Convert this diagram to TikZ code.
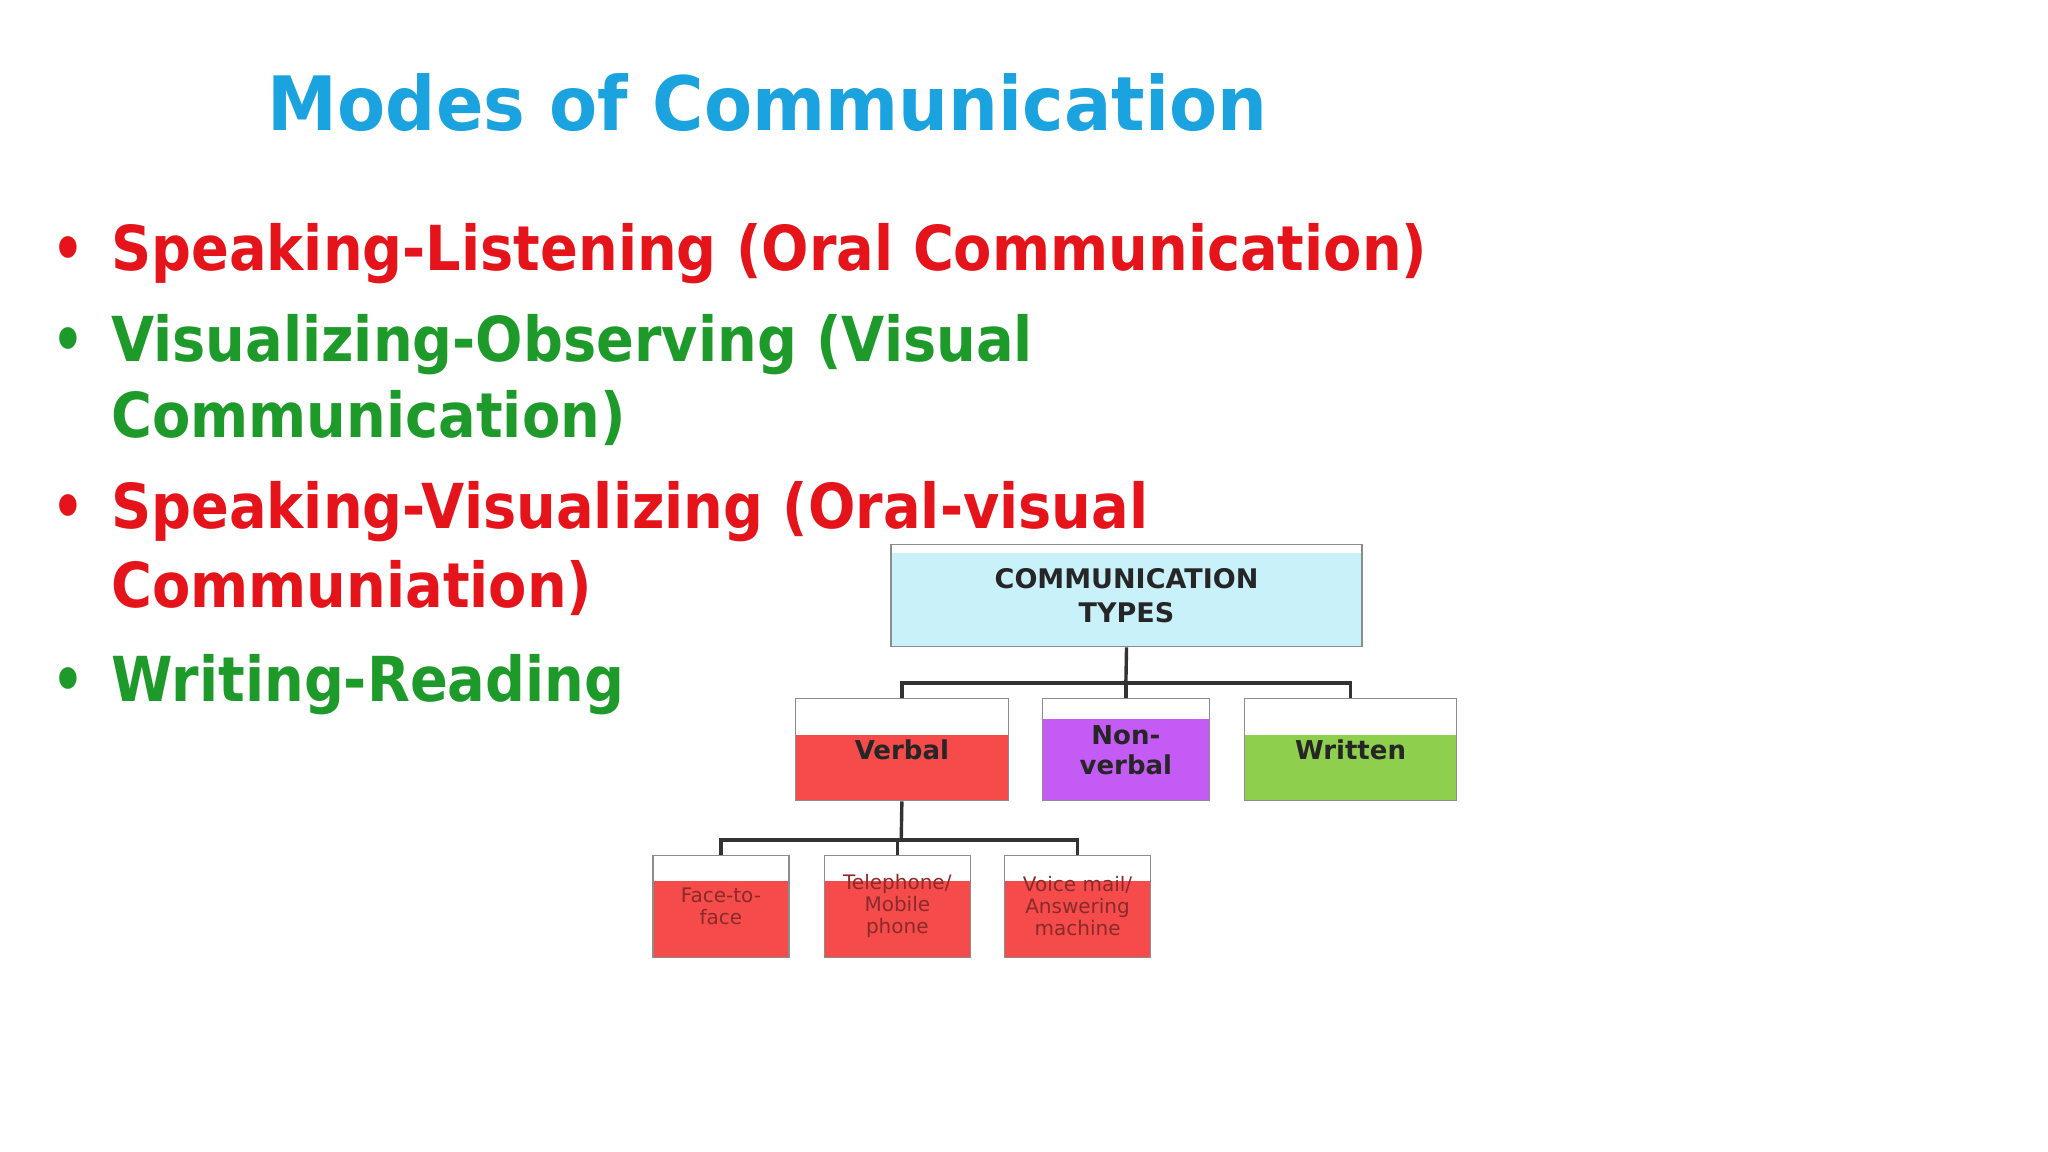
\documentclass[tikz,border=0pt]{standalone}
\usepackage{fontspec}
\setmainfont{DejaVu Sans}
\definecolor{ttl}{HTML}{1BA3E0}
\definecolor{rd}{HTML}{E5131A}
\definecolor{gr}{HTML}{1E9A2A}
\definecolor{cyanbox}{HTML}{C9F1FA}
\definecolor{redbox}{HTML}{F54B4B}
\definecolor{purbox}{HTML}{C55BF5}
\definecolor{grbox}{HTML}{8ED04E}
\definecolor{bordc}{HTML}{8C8C8C}
\definecolor{smalltxt}{HTML}{8A2A2A}
\tikzset{
 tbox/.style={draw=bordc,line width=1.5pt,align=center,font=\bfseries\fontsize{26}{30}\selectfont,text=black!85},
 banded/.style={tbox,fill=#1},
 band/.style={path picture={\fill[white] (path picture bounding box.north west) rectangle ([yshift=-#1]path picture bounding box.north east);}},
 conn/.style={draw=black!80,line width=3.4pt},
 bul/.style={anchor=base west,font=\bfseries\fontsize{62}{70}\selectfont},
 small/.style={font=\fontsize{20}{22}\selectfont,text=smalltxt}
}
\begin{document}
\begin{tikzpicture}[x=1.306pt,y=-1.306pt]
\useasboundingbox (0,0) rectangle (1568,882);
\node[anchor=base west,text=ttl,font=\bfseries\fontsize{75}{80}\selectfont,inner sep=0] (title) at (205,100) {\scalebox{0.935}[1]{Modes of Communication}};
\foreach \y/\c/\t [count=\i] in {207/rd/{Speaking-Listening (Oral Communication)},
  277/gr/{Visualizing-Observing (Visual},
  335/gr/{Communication)},
  405/rd/{Speaking-Visualizing (Oral-visual},
  465/rd/{Communiation)},
  537/gr/{Writing-Reading}}{
  \node[bul,text=\c,inner sep=0] (l\i) at (85,\y) {\scalebox{0.9}[1]{\t}};
}
\foreach \y/\c [count=\i] in {207/rd,277/gr,405/rd,537/gr}{
  \node[bul,text=\c,inner sep=0] (b\i) at (40,\y) {\scalebox{0.8}[1]{•}};
}
\node[tbox,fill=cyanbox,band=8pt,minimum width=471pt,minimum height=102pt,font=\bfseries\fontsize{27}{34}\selectfont] (top) at (862.5,456) {COMMUNICATION\\TYPES};
\node[banded=redbox,band=36pt,minimum width=213pt,minimum height=102pt] (verbal) at (690.5,574) {Verbal};
\node[banded=purbox,band=20pt,minimum width=167pt,minimum height=102pt] (nonverbal) at (862,574) {Non-\\verbal};
\node[banded=grbox,band=36pt,minimum width=212pt,minimum height=102pt] (written) at (1034,574) {Written};
\node[banded=redbox,band=26pt,minimum width=136pt,minimum height=102pt,small] (f2f) at (552,694) {Face-to-\\face};
\node[banded=redbox,band=26pt,minimum width=146pt,minimum height=102pt,small] (tel) at (687,694) {Telephone/\\Mobile\\phone};
\node[banded=redbox,band=26pt,minimum width=146pt,minimum height=102pt,small] (voice) at (825,694) {Voice mail/\\Answering\\machine};
\coordinate (j1) at (862,523);
\coordinate (j2) at (690,643);
\draw[conn] (top.south) -- (j1);
\draw[conn] (verbal.north) -- (verbal.north |- j1) -- (written.north |- j1) -- (written.north);
\draw[conn] (nonverbal.north) -- (nonverbal.north |- j1);
\draw[conn] (verbal.south) -- (j2);
\draw[conn] (f2f.north) -- (f2f.north |- j2) -- (voice.north |- j2) -- (voice.north);
\draw[conn] (tel.north) -- (tel.north |- j2);
\end{tikzpicture}
\end{document}
